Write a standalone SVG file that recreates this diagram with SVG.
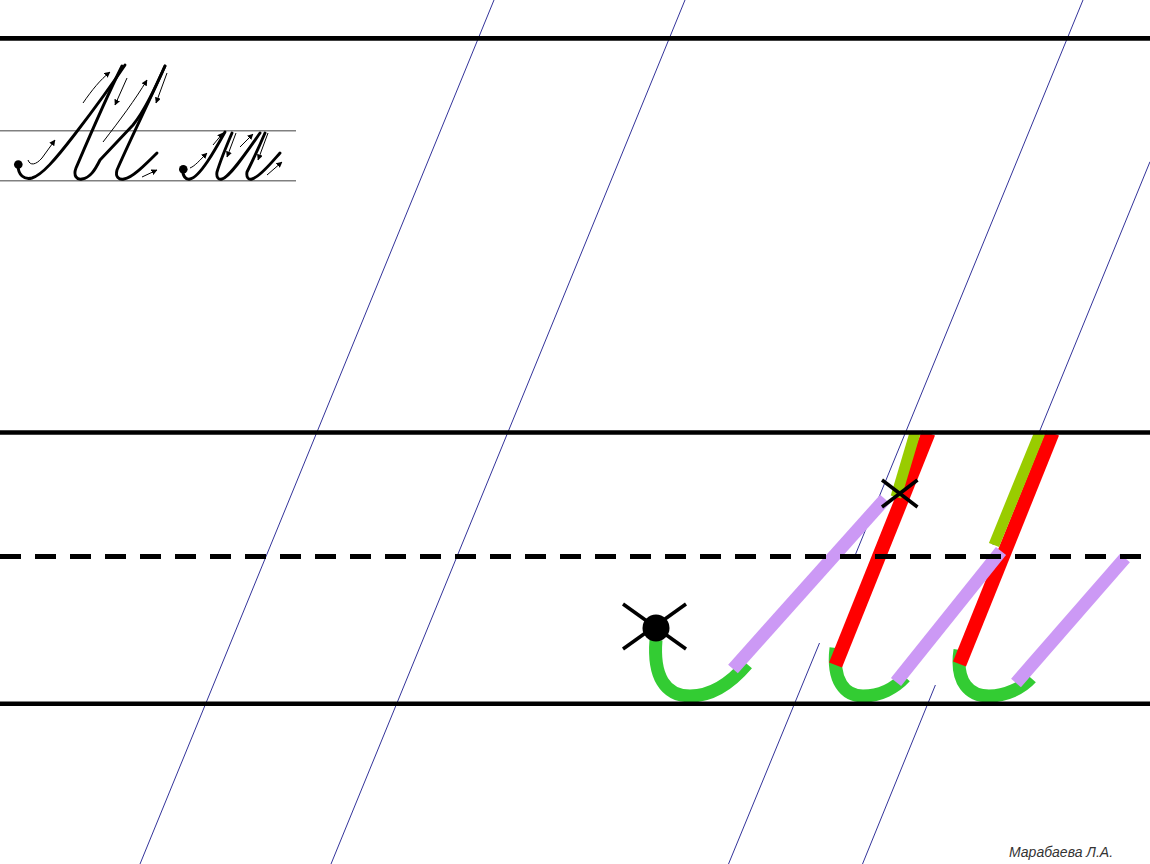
<svg xmlns="http://www.w3.org/2000/svg" width="1150" height="864" viewBox="0 0 1150 864">
<style>
.slant{stroke:#33339a;stroke-width:1;fill:none}
.rule{stroke:#000;stroke-width:4.6;fill:none}
.dash{stroke:#000;stroke-width:5;stroke-dasharray:21 14;fill:none}
.green{stroke:#33cc33;stroke-width:13;fill:none}
.purple{stroke:#cc99f5;stroke-width:13;fill:none}
.red{stroke:#ff0000;stroke-width:14;fill:none}
.olive{stroke:#99cc00;stroke-width:11;fill:none}
.cross{stroke:#000;stroke-width:3.5;fill:none}
.pen{stroke:#000;stroke-width:2.9;fill:none;stroke-linecap:round;stroke-linejoin:round}
.thin{stroke:#000;stroke-width:1;fill:none;marker-end:url(#ah)}
.guide{stroke:#808080;stroke-width:1.5;fill:none}
.sig{font-family:"Liberation Sans",Arial,sans-serif;font-size:14px;font-style:italic;fill:#333}
</style>
<defs>
<marker id="ah" markerUnits="userSpaceOnUse" markerWidth="6" markerHeight="6" refX="5.5" refY="3" orient="auto">
<path d="M0,0 L6,3 L0,6 z" fill="#000"/>
</marker>
</defs>
<rect width="1150" height="864" fill="#fff"/>
<g id="slant-lines">
<line class="slant" x1="494" y1="0" x2="140" y2="864"/>
<line class="slant" x1="685" y1="0" x2="331" y2="864"/>
<line class="slant" x1="1083" y1="0" x2="854" y2="558"/>
<line class="slant" x1="819.5" y1="643" x2="728.5" y2="864"/>
<line class="slant" x1="1150" y1="161.7" x2="993" y2="545"/>
<line class="slant" x1="935.4" y1="685" x2="862.5" y2="864"/>
</g>
<g id="sample">
<line class="guide" x1="0" y1="130.7" x2="296" y2="130.7"/>
<line class="guide" x1="0" y1="180.7" x2="296" y2="180.7"/>
<circle cx="18.3" cy="164.5" r="4.3" fill="#000"/>
<path class="pen" d="M18,165 C18,175 24,180 32,178 C42,175 55,160 75,134 C95,108 115,80 125,65"/>
<path class="pen" d="M122,66 C105,100 88,140 76,168 C73,176 77,180 82,179 C90,178 95,170 100,160 L133,125 C145,110 155,88 165,66"/>
<path class="pen" d="M165,66 C150,100 130,140 117,170 C115,177 119,180 124,179 C132,178 145,165 157,153"/>
<path class="thin" d="M28,160 C30,166 36,165 42,158 L55,140"/>
<path class="thin" d="M83,103 C92,90 100,80 110,72"/>
<path class="thin" d="M127,78 L115,105"/>
<path class="thin" d="M103,142 C120,120 135,100 147,80"/>
<path class="thin" d="M167,73 L156,103"/>
<path class="thin" d="M142,177 L157,170"/>
<circle cx="183.3" cy="169.3" r="4.3" fill="#000"/>
<path class="pen" d="M183,169 C182,176 186,180 190,179 C200,177 215,150 225,132"/>
<path class="pen" d="M232,133 C226,147 220,162 217,172 C216,178 219,180 222,179 C230,177 248,150 260,133"/>
<path class="pen" d="M265,133 C259,147 252,162 247,172 C246,178 249,180 252,179 C260,177 272,162 280,153"/>
<path class="thin" d="M190,168 C195,166 200,160 207,153"/>
<path class="thin" d="M213,145 L223,133"/>
<path class="thin" d="M236,133 L227,157"/>
<path class="thin" d="M240,147 L253,134"/>
<path class="thin" d="M268,133 L258,160"/>
<path class="thin" d="M267,175 L282,162"/>
</g>
<g id="letter">
<path class="green" d="M656,640 C653,676 665,696 690,696 C710,696 730,684 747,664"/>
<path class="green" d="M836,648 C832,681 845,696 863,696 C880,696 895,688 905,677"/>
<path class="green" d="M960,650 C955,683 970,696 989,696 C1006,696 1022,688 1031,678"/>
<line class="red" x1="928.5" y1="433" x2="835.5" y2="665"/>
<line class="red" x1="1052.5" y1="433" x2="959.5" y2="664"/>
<line class="olive" x1="915" y1="433" x2="896" y2="497"/>
<line class="olive" x1="1039.7" y1="433" x2="994" y2="545"/>
<line class="purple" x1="733" y1="669" x2="885" y2="499"/>
<line class="purple" x1="896" y1="682" x2="1001" y2="551"/>
<line class="purple" x1="1016" y1="683" x2="1125" y2="558"/>
</g>
<g id="start-mark">
<circle cx="656" cy="628" r="13.5" fill="#000"/>
<line class="cross" x1="623" y1="604" x2="686" y2="649"/>
<line class="cross" x1="623" y1="649" x2="686" y2="604"/>
</g>
<g id="join-mark">
<line class="cross" x1="882" y1="480" x2="917.5" y2="507"/>
<line class="cross" x1="882" y1="507" x2="917.5" y2="480"/>
</g>
<g id="rules">
<line class="rule" x1="0" y1="38.4" x2="1150" y2="38.4"/>
<line class="rule" x1="0" y1="432.5" x2="1150" y2="432.5"/>
<line class="dash" x1="0" y1="556.5" x2="1150" y2="556.5"/>
<line class="rule" x1="0" y1="703.8" x2="1150" y2="703.8"/>
</g>
<text class="sig" x="1009" y="857">Марабаева Л.А.</text>
</svg>
